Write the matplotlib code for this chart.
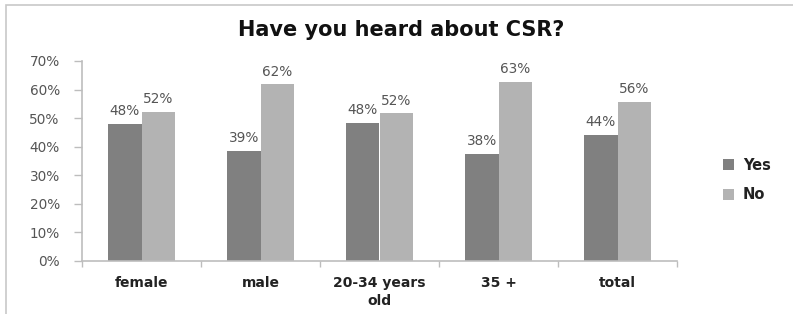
import numpy as np
import matplotlib
matplotlib.use("Agg")
import matplotlib.pyplot as plt
from matplotlib.patches import Rectangle
from matplotlib.ticker import FixedLocator, PercentFormatter

# data
categories = ['female', 'male', '20-34 years\nold', '35 +', 'total']
yes_vals = [47.9, 38.5, 48.3, 37.4, 44.1]
no_vals = [52.1, 61.8, 51.7, 62.6, 55.6]
yes_labels = ['48%', '39%', '48%', '38%', '44%']
no_labels = ['52%', '62%', '52%', '63%', '56%']
y_ticks = [0, 10, 20, 30, 40, 50, 60, 70]

C_YES = '#808080'
C_NO = '#b3b3b3'
C_AXIS = '#bdbdbd'
C_TEXT = '#555555'

fig = plt.figure(figsize=(7.93, 3.14), dpi=100)
fig.patch.set_facecolor('white')

# outer chart frame (left and top edges visible)
fig.add_artist(Rectangle((6 / 793, -0.05), 1.2, 1 - 5 / 314 + 0.05,
                         transform=fig.transFigure, fill=False,
                         ec='#c8c8c8', lw=1.2))

ax = fig.add_axes([82 / 793, 1 - 261 / 314, 595 / 793, 200 / 314])
x = np.arange(len(categories))
w = 0.28

b_yes = ax.bar(x - w / 2, yes_vals, w, color=C_YES, label='Yes', zorder=2)
b_no = ax.bar(x + w / 2, no_vals, w, color=C_NO, label='No', zorder=2)

for bars, labs in ((b_yes, yes_labels), (b_no, no_labels)):
    for r, lab in zip(bars, labs):
        ax.text(r.get_x() + r.get_width() / 2, r.get_height() + 2.0, lab,
                ha='center', va='bottom', fontsize=9.8, color=C_TEXT)

ax.set_xlim(-0.5, len(categories) - 0.5)
ax.set_ylim(0, 70)
ax.yaxis.set_major_locator(FixedLocator(y_ticks))
ax.yaxis.set_major_formatter(PercentFormatter(decimals=0))

ax.set_xticks(x)
ax.set_xticklabels(categories, fontsize=10, fontweight='bold', color='#222222',
                   linespacing=1.35)
ax.set_xticks(np.arange(-0.5, len(categories), 1), minor=True)
ax.tick_params(axis='x', which='major', length=0, pad=11)
ax.tick_params(axis='x', which='minor', length=4, color=C_AXIS, width=1)
ax.tick_params(axis='y', length=6, color=C_AXIS, width=1, labelsize=9.8,
               labelcolor=C_TEXT, pad=10)

for s in ('top', 'right'):
    ax.spines[s].set_visible(False)
for s in ('left', 'bottom'):
    ax.spines[s].set_color(C_AXIS)
    ax.spines[s].set_linewidth(1.2)

fig.text(401 / 793, 1 - 30 / 314, 'Have you heard about CSR?', ha='center',
         va='center', fontsize=15, fontweight='bold', color='#111111')

leg = ax.legend(loc='center left', bbox_to_anchor=(710 / 793, 1 - 180 / 314),
                bbox_transform=fig.transFigure, frameon=False,
                handlelength=0.75, handleheight=0.75, handletextpad=0.6,
                labelspacing=1.0, prop={'weight': 'bold', 'size': 10.5})
for t in leg.get_texts():
    t.set_color('#222222')

fig.savefig('out.png', dpi=100)
